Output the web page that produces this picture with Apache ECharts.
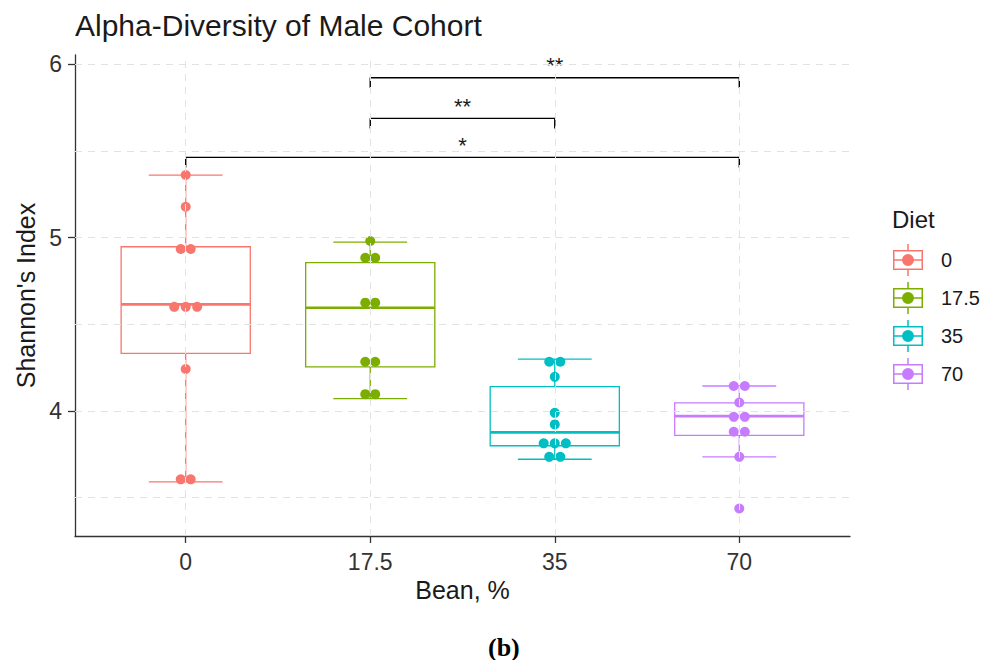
<!DOCTYPE html>
<html>
<head>
<meta charset="utf-8">
<script src="https://cdn.jsdelivr.net/npm/echarts@6/dist/echarts.min.js"></script>
<style>html,body{margin:0;padding:0;background:#fff;}#chart{width:991px;height:660px;}</style>
</head>
<body>
<div id="chart"></div>
<script>
// ---- data ----
const categories = ['0', '17.5', '35', '70'];
const colors = ['#F8766D', '#7CAE00', '#00BFC4', '#C77CFF'];

const boxMin    = [3.59, 4.07, 3.72, 3.734];
const boxQ1     = [4.331, 4.254, 3.798, 3.858];
const boxMedian = [4.614, 4.595, 3.875, 3.969];
const boxQ3     = [4.947, 4.855, 4.139, 4.046];
const boxMax    = [5.361, 4.974, 4.298, 4.143];

const points0 = [5.361, 5.178, 4.934, 4.934, 4.600, 4.600, 4.600, 4.241, 3.604, 3.604];
const jitter0 = [0, 0, -0.027, 0.027, -0.062, 0, 0.062, 0, -0.027, 0.027];
const points1 = [4.980, 4.883, 4.883, 4.624, 4.624, 4.283, 4.283, 4.096, 4.096];
const jitter1 = [0, -0.027, 0.027, -0.027, 0.027, -0.027, 0.027, -0.027, 0.027];
const points2 = [4.283, 4.283, 4.196, 3.988, 3.921, 3.812, 3.812, 3.812, 3.734, 3.734];
const jitter2 = [-0.03, 0.03, 0, 0, 0, -0.06, 0, 0.06, -0.03, 0.03];
const points3 = [4.143, 4.143, 4.048, 3.965, 3.965, 3.879, 3.879, 3.734, 3.436];
const jitter3 = [-0.03, 0.03, 0, -0.03, 0.03, -0.03, 0.03, 0, 0];

const sigFrom   = [2, 2, 1];
const sigTo     = [4, 3, 4];
const sigLevel  = [5.923, 5.688, 5.463];
const sigDrop   = 0.058;
const sigLabels = ['**', '**', '*'];

const yTicks = [4, 5, 6];
const yGrid = [3.5, 4, 4.5, 5, 5.5, 6];
const xTicks = [1, 2, 3, 4];

// ---- build ----
const FONT = 'Liberation Sans, Arial, sans-serif';
const allPoints = [points0, points1, points2, points3];
const allJitter = [jitter0, jitter1, jitter2, jitter3];

const boxData = categories.map((c, i) => [i + 1, boxMin[i], boxQ1[i], boxMedian[i], boxQ3[i], boxMax[i]]);

const gridLineStyle = { color: '#e2e2e2', type: [7, 6], width: 1 };

const series = [];
series.push({
  type: 'line', data: [], z: 1, silent: true,
  markLine: {
    silent: true, symbol: ['none', 'none'], label: { show: false },
    lineStyle: gridLineStyle, emphasis: { disabled: true },
    data: yGrid.map(v => ({ yAxis: v })).concat(xTicks.map(v => ({ xAxis: v })))
  }
});

const BOX_HW = 0.35, CAP_HW = 0.2;
series.push({
  type: 'custom', z: 2, silent: true,
  data: boxData,
  encode: { x: 0, y: [1, 2, 3, 4, 5] },
  renderItem: function (params, api) {
    const x = api.value(0), mn = api.value(1), q1 = api.value(2), md = api.value(3), q3 = api.value(4), mx = api.value(5);
    const c = colors[params.dataIndex];
    const P = (a, b) => api.coord([a, b]);
    const ln = (a, b, w) => ({ type: 'line', shape: { x1: a[0], y1: a[1], x2: b[0], y2: b[1] }, style: { stroke: c, lineWidth: w || 1.3 } });
    const tl = P(x - BOX_HW, q3), br = P(x + BOX_HW, q1);
    return {
      type: 'group', children: [
        ln(P(x - CAP_HW, mx), P(x + CAP_HW, mx)),
        ln(P(x - CAP_HW, mn), P(x + CAP_HW, mn)),
        ln(P(x, mx), P(x, q3)),
        ln(P(x, q1), P(x, mn)),
        { type: 'rect', shape: { x: tl[0], y: tl[1], width: br[0] - tl[0], height: br[1] - tl[1] }, style: { stroke: c, lineWidth: 1.3, fill: '#fff' } },
        ln(P(x - BOX_HW, md), P(x + BOX_HW, md), 2.6)
      ]
    };
  }
});

categories.forEach((name, i) => {
  series.push({
    type: 'scatter', name: name, z: 3,
    symbol: 'circle', symbolSize: 10,
    itemStyle: { color: colors[i], opacity: 1 },
    data: allPoints[i].map((v, k) => [i + 1 + allJitter[i][k], v])
  });
});

sigFrom.forEach((a, i) => {
  const b = sigTo[i], y = sigLevel[i];
  series.push({
    type: 'line', z: 4, silent: true, symbol: 'none',
    lineStyle: { color: '#000', width: 1.4 },
    data: [[a, y - sigDrop], [a, y], [b, y], [b, y - sigDrop]]
  });
});

series.push({
  type: 'custom', z: 4, silent: true,
  data: sigFrom.map((a, i) => [(a + sigTo[i]) / 2, sigLevel[i]]),
  renderItem: function (params, api) {
    const p = api.coord([api.value(0), api.value(1)]);
    return {
      type: 'text', x: p[0], y: p[1] - 1,
      style: { text: sigLabels[params.dataIndex], fontSize: 22, fontFamily: FONT, fill: '#1a1a1a', align: 'center', verticalAlign: 'bottom' }
    };
  }
});

const legendIcon = 'path://M0 6H30V26H0Z M1.5 7.5V24.5H28.5V7.5Z M1.5 15.25H28.5V16.75H1.5Z M14.25 0H15.75V6H14.25Z M14.25 26H15.75V32H14.25Z M9 16A6 6 0 1 1 21 16A6 6 0 1 1 9 16Z';

const option = {
  animation: false,
  backgroundColor: '#fff',
  title: [
    { text: 'Alpha-Diversity of Male Cohort', left: 75, top: 10, padding: 0,
      textStyle: { fontSize: 30, fontWeight: 'normal', color: '#1a1a1a', fontFamily: FONT } },
    { text: 'Diet', left: 892, top: 207, padding: 0,
      textStyle: { fontSize: 24, fontWeight: 'normal', color: '#1a1a1a', fontFamily: FONT } },
    { text: '{p|(}{b|b}{p|)}', left: 488, top: 634, padding: 0,
      textStyle: { rich: {
        p: { fontSize: 26, fontFamily: 'Liberation Serif, serif', color: '#000' },
        b: { fontSize: 26, fontFamily: 'Liberation Serif, serif', fontWeight: 'bold', color: '#000' } } } }
  ],
  legend: {
    orient: 'vertical', left: 893, top: 244, padding: 0,
    itemWidth: 30, itemHeight: 32, itemGap: 6,
    icon: legendIcon, selectedMode: false,
    textStyle: { fontSize: 20, color: '#1a1a1a', fontFamily: FONT, padding: [0, 0, 0, 13] },
    data: categories
  },
  grid: { left: 75, right: 141, top: 55, bottom: 124, containLabel: false },
  xAxis: {
    type: 'value', min: 0.4, max: 4.6,
    axisLine: { show: true, onZero: false, lineStyle: { color: '#333', width: 1.3 } },
    axisTick: { show: true, length: 7, customValues: xTicks, lineStyle: { color: '#333', width: 1.3 } },
    axisLabel: { customValues: xTicks, formatter: v => categories[Math.round(v) - 1], fontSize: 23, color: '#333', margin: 14, fontFamily: FONT },
    splitLine: { show: false },
    name: 'Bean, %', nameLocation: 'middle', nameGap: 40,
    nameTextStyle: { fontSize: 25, color: '#1a1a1a', fontFamily: FONT }
  },
  yAxis: {
    type: 'value', min: 3.277, max: 6.054,
    axisLine: { show: true, onZero: false, lineStyle: { color: '#333', width: 1.3 } },
    axisTick: { show: true, length: 7, customValues: yTicks, lineStyle: { color: '#333', width: 1.3 } },
    axisLabel: { customValues: yTicks, fontSize: 23, color: '#333', margin: 13, fontFamily: FONT },
    splitLine: { show: false },
    name: "Shannon's Index", nameLocation: 'middle', nameGap: 35, nameRotate: 90,
    nameTextStyle: { fontSize: 25, color: '#1a1a1a', fontFamily: FONT }
  },
  series: series
};

const chart = echarts.init(document.getElementById('chart'), null, { renderer: 'svg', width: 991, height: 660 });
chart.setOption(option);
</script>
</body>
</html>
